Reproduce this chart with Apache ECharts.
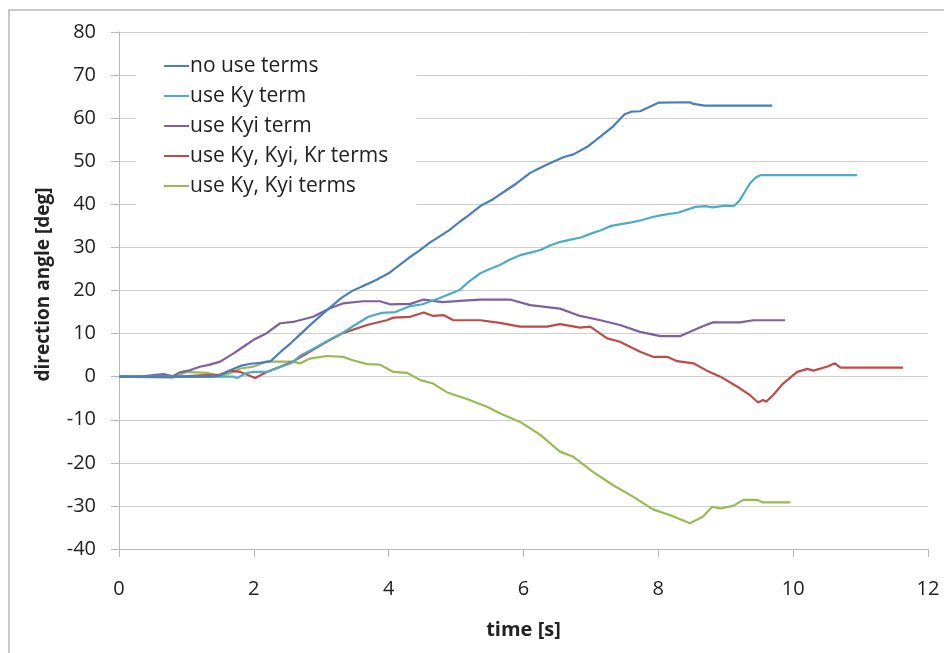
<!DOCTYPE html>
<html>
<head>
<meta charset="utf-8">
<script src="https://cdn.jsdelivr.net/npm/echarts@6/dist/echarts.min.js"></script>
<style>
html,body{margin:0;padding:0;background:#fff;}
#chart{width:944px;height:653px;}
</style>
</head>
<body>
<div id="chart"></div>
<script>
// ---- data (time [s], direction angle [deg]) ----
var seriesNames = ['no use terms', 'use Ky term', 'use Kyi term', 'use Ky, Kyi, Kr terms', 'use Ky, Kyi terms'];
var seriesColors = ['#4a7ebb', '#4bacc6', '#7d60a0', '#be4b48', '#98b954'];

var noUseT = [0, 1.4, 1.5, 1.65, 1.8, 1.95, 2.1, 2.25, 2.4, 2.55, 2.7, 2.85, 3.0, 3.15, 3.3, 3.45, 3.6, 3.8, 4.0, 4.15, 4.3, 4.45, 4.6, 4.75, 4.9, 5.05, 5.2, 5.36, 5.55, 5.7, 5.9, 6.1, 6.25, 6.44, 6.6, 6.74, 6.94, 7.14, 7.33, 7.5, 7.6, 7.73, 7.85, 8.0, 8.47, 8.52, 8.69, 9.69];
var noUseV = [0, 0, 0.3, 1.5, 2.5, 3.0, 3.2, 3.6, 5.8, 7.8, 10.0, 12.2, 14.3, 16.3, 18.3, 19.8, 20.9, 22.3, 24.0, 25.8, 27.6, 29.2, 31.0, 32.5, 34.0, 35.9, 37.6, 39.6, 41.2, 42.8, 44.9, 47.3, 48.5, 49.9, 51.0, 51.6, 53.3, 55.7, 58.1, 60.9, 61.5, 61.6, 62.5, 63.6, 63.7, 63.3, 62.9, 62.9];

var kyT = [0, 1.7, 1.75, 1.9, 2.0, 2.2, 2.4, 2.55, 2.7, 2.85, 3.0, 3.15, 3.3, 3.5, 3.7, 3.9, 4.1, 4.3, 4.5, 4.75, 5.05, 5.2, 5.36, 5.5, 5.65, 5.8, 5.95, 6.1, 6.25, 6.4, 6.55, 6.7, 6.85, 7.0, 7.15, 7.3, 7.45, 7.6, 7.75, 7.9, 8.05, 8.3, 8.55, 8.7, 8.8, 9.0, 9.12, 9.2, 9.28, 9.36, 9.45, 9.52, 10.95];
var kyV = [0, 0, -0.3, 0.9, 1.1, 1.1, 2.3, 3.1, 5.0, 6.2, 7.5, 8.8, 10.0, 12.0, 13.9, 14.8, 15.0, 16.3, 16.8, 18.2, 20.1, 22.2, 24.0, 25.0, 25.9, 27.2, 28.2, 28.8, 29.4, 30.5, 31.3, 31.8, 32.3, 33.2, 34.0, 35.0, 35.4, 35.8, 36.3, 37.0, 37.5, 38.1, 39.4, 39.6, 39.3, 39.7, 39.6, 40.8, 42.8, 44.9, 46.3, 46.8, 46.8];

var kyiT = [0, 0.3, 0.31, 0.66, 0.8, 0.9, 1.05, 1.2, 1.35, 1.5, 1.7, 1.85, 1.99, 2.19, 2.39, 2.58, 2.88, 3.13, 3.32, 3.62, 3.87, 4.02, 4.32, 4.52, 4.8, 5.06, 5.36, 5.8, 6.1, 6.54, 6.84, 7.14, 7.43, 7.73, 8.03, 8.32, 8.47, 8.66, 8.81, 9.21, 9.41, 9.88];
var kyiV = [0, 0, 0.3, 0.6, 0.1, 1.0, 1.5, 2.3, 2.8, 3.5, 5.4, 7.0, 8.5, 10.1, 12.4, 12.7, 13.9, 15.9, 17.0, 17.5, 17.5, 16.8, 16.9, 17.9, 17.3, 17.6, 17.9, 17.9, 16.6, 15.8, 14.1, 13.1, 12.0, 10.4, 9.4, 9.4, 10.4, 11.7, 12.6, 12.6, 13.1, 13.1];

var kyKyiKrT = [0, 0.9, 1.2, 1.5, 1.65, 1.8, 2.02, 2.19, 2.39, 2.58, 2.79, 3.08, 3.32, 3.68, 3.97, 4.07, 4.32, 4.52, 4.66, 4.81, 4.96, 5.36, 5.65, 5.95, 6.35, 6.54, 6.84, 6.99, 7.24, 7.43, 7.73, 7.92, 8.13, 8.28, 8.52, 8.72, 8.92, 9.21, 9.36, 9.48, 9.55, 9.6, 9.7, 9.85, 10.06, 10.21, 10.3, 10.5, 10.62, 10.7, 11.63];
var kyKyiKrV = [0, 0, 0.3, 0.5, 1.4, 1.1, -0.3, 1.1, 2.3, 3.5, 5.4, 8.1, 10.1, 12.0, 13.1, 13.7, 13.9, 14.9, 14.1, 14.3, 13.1, 13.1, 12.5, 11.6, 11.6, 12.2, 11.4, 11.6, 8.9, 8.1, 5.8, 4.6, 4.6, 3.6, 3.1, 1.4, 0, -2.7, -4.3, -6.0, -5.4, -5.8, -4.3, -1.6, 1.1, 1.8, 1.4, 2.3, 3.1, 2.1, 2.1];

var kyKyiT = [0, 0.8, 1.0, 1.3, 1.5, 1.7, 1.8, 1.99, 2.19, 2.39, 2.58, 2.69, 2.83, 3.08, 3.32, 3.47, 3.68, 3.87, 4.07, 4.27, 4.47, 4.66, 4.86, 5.16, 5.46, 5.65, 5.95, 6.25, 6.54, 6.74, 7.03, 7.33, 7.63, 7.92, 8.17, 8.47, 8.66, 8.8, 8.92, 9.11, 9.26, 9.47, 9.55, 9.96];
var kyKyiV = [0, -0.2, 1.1, 0.9, 0.1, 1.1, 1.9, 2.3, 3.5, 3.5, 3.5, 3.1, 4.2, 4.8, 4.6, 3.8, 2.9, 2.8, 1.1, 0.9, -0.8, -1.6, -3.6, -5.2, -7.0, -8.5, -10.5, -13.5, -17.4, -18.6, -22.1, -25.2, -27.9, -30.8, -32.1, -34.0, -32.5, -30.2, -30.6, -30.0, -28.6, -28.6, -29.2, -29.2];

var xTicks = [0, 2, 4, 6, 8, 10, 12];
var yTicks = [-40, -30, -20, -10, 0, 10, 20, 30, 40, 50, 60, 70, 80];

function pairs(t, v) { return t.map(function (x, i) { return [x, v[i]]; }); }
var allT = [noUseT, kyT, kyiT, kyKyiKrT, kyKyiT];
var allV = [noUseV, kyV, kyiV, kyKyiKrV, kyKyiV];

var font = '"Open Sans", "Liberation Sans", sans-serif';
var chart = echarts.init(document.getElementById('chart'), null, {renderer: 'canvas'});
chart.setOption({
  animation: false,
  backgroundColor: '#ffffff',
  graphic: [{
    type: 'rect', silent: true, z: -10,
    shape: {x: 9, y: 10, width: 960, height: 680},
    style: {fill: 'none', stroke: '#c9c9c9', lineWidth: 2}
  }],
  grid: {left: 119, right: 16, top: 32, bottom: 104, containLabel: false},
  legend: {
    orient: 'vertical', left: 136, top: 43,
    backgroundColor: '#ffffff',
    padding: [12, 28, 12, 28],
    icon: 'rect',
    itemWidth: 25, itemHeight: 2, itemGap: 8,
    textStyle: {fontFamily: font, fontSize: 21, color: '#222', lineHeight: 22, padding: [0, 0, 0, -4]},
    data: seriesNames
  },
  xAxis: {
    type: 'value', min: 0, max: 12, interval: 2,
    name: 'time [s]', nameLocation: 'middle', nameGap: 71,
    nameTextStyle: {fontFamily: font, fontSize: 20, fontWeight: 'bold', color: '#222'},
    axisLine: {onZero: false, lineStyle: {color: '#b8b8b8', width: 1}},
    axisTick: {show: true, length: 8, lineStyle: {color: '#b8b8b8'}},
    axisLabel: {fontFamily: font, fontSize: 20, color: '#222', margin: 30},
    splitLine: {show: false}
  },
  yAxis: {
    type: 'value', min: -40, max: 80, interval: 10,
    name: 'direction angle [deg]', nameLocation: 'middle', nameGap: 66,
    nameTextStyle: {fontFamily: font, fontSize: 19, fontWeight: 'bold', color: '#222', padding: [0, 0, 0, 12]},
    axisLine: {show: true, lineStyle: {color: '#b8b8b8', width: 1}},
    axisTick: {show: true, length: 8, lineStyle: {color: '#b8b8b8'}},
    axisLabel: {fontFamily: font, fontSize: 20, color: '#222', margin: 23},
    splitLine: {show: true, lineStyle: {color: '#cfcfcf', width: 1}}
  },
  series: seriesNames.map(function (n, i) {
    return {
      name: n, type: 'line', symbol: 'none', z: 5 - i,
      data: pairs(allT[i], allV[i]),
      lineStyle: {color: seriesColors[i], width: 2.2},
      itemStyle: {color: seriesColors[i]}
    };
  })
});
</script>
</body>
</html>
